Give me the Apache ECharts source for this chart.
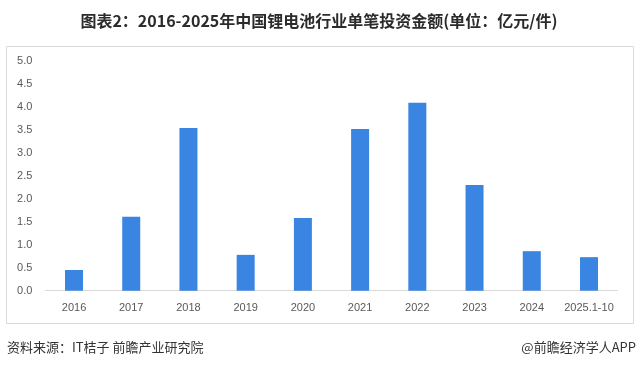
<!DOCTYPE html>
<html>
<head>
<meta charset="utf-8">
<script src="https://cdn.jsdelivr.net/npm/echarts@6/dist/echarts.min.js"></script>
<style>
html,body{margin:0;padding:0;background:#fff;}
#c{width:638px;height:369px;}
</style>
</head>
<body>
<div id="c"></div>
<script>
const categories = ['2016','2017','2018','2019','2020','2021','2022','2023','2024','2025.1-10'];
const values = [0.45, 1.61, 3.54, 0.78, 1.58, 3.52, 4.09, 2.30, 0.86, 0.73];
const yTicks = {min: 0, max: 5, interval: 0.5};
const titleText = '图表2：2016-2025年中国锂电池行业单笔投资金额(单位：亿元/件)';
const sourceText = '资料来源：IT桔子 前瞻产业研究院';
const brandText = '@前瞻经济学人APP';

const chart = echarts.init(document.getElementById('c'), null, {renderer: 'canvas'});
chart.setOption({
  backgroundColor: '#fff',
  animation: false,
  title: {
    text: titleText,
    left: 'center',
    top: 8,
    textStyle: {fontFamily: 'Noto Sans CJK SC', fontSize: 16, fontWeight: 'bold', color: '#2b2b2b'}
  },
  grid: {left: 45.4, right: 20.4, top: 61, bottom: 78.3, containLabel: false},
  xAxis: {
    type: 'category',
    data: categories,
    axisLine: {lineStyle: {color: '#d9d9d9', width: 1}},
    axisTick: {show: false},
    axisLabel: {color: '#595959', fontSize: 11, fontFamily: 'Liberation Sans', margin: 12, interval: 0}
  },
  yAxis: {
    type: 'value',
    min: yTicks.min, max: yTicks.max, interval: yTicks.interval,
    axisLine: {show: false},
    axisTick: {show: false},
    splitLine: {show: false},
    axisLabel: {color: '#595959', fontSize: 11, fontFamily: 'Liberation Sans', margin: 13,
      formatter: v => v.toFixed(1)}
  },
  series: [{
    type: 'bar',
    data: values,
    barWidth: 18,
    itemStyle: {color: '#3A84E2'}
  }],
  graphic: [
    {type: 'rect', shape: {x: 6.5, y: 46.5, width: 627, height: 277}, style: {fill: 'none', stroke: '#d9d9d9', lineWidth: 1}, z: -1},
    {type: 'text', left: 7, top: 341, style: {text: sourceText, fontSize: 13, fontFamily: 'Noto Sans CJK SC', fill: '#333'}},
    {type: 'text', right: 2, top: 341, style: {text: brandText, fontSize: 13, fontFamily: 'Noto Sans CJK SC', fill: '#333'}}
  ]
});
</script>
</body>
</html>
